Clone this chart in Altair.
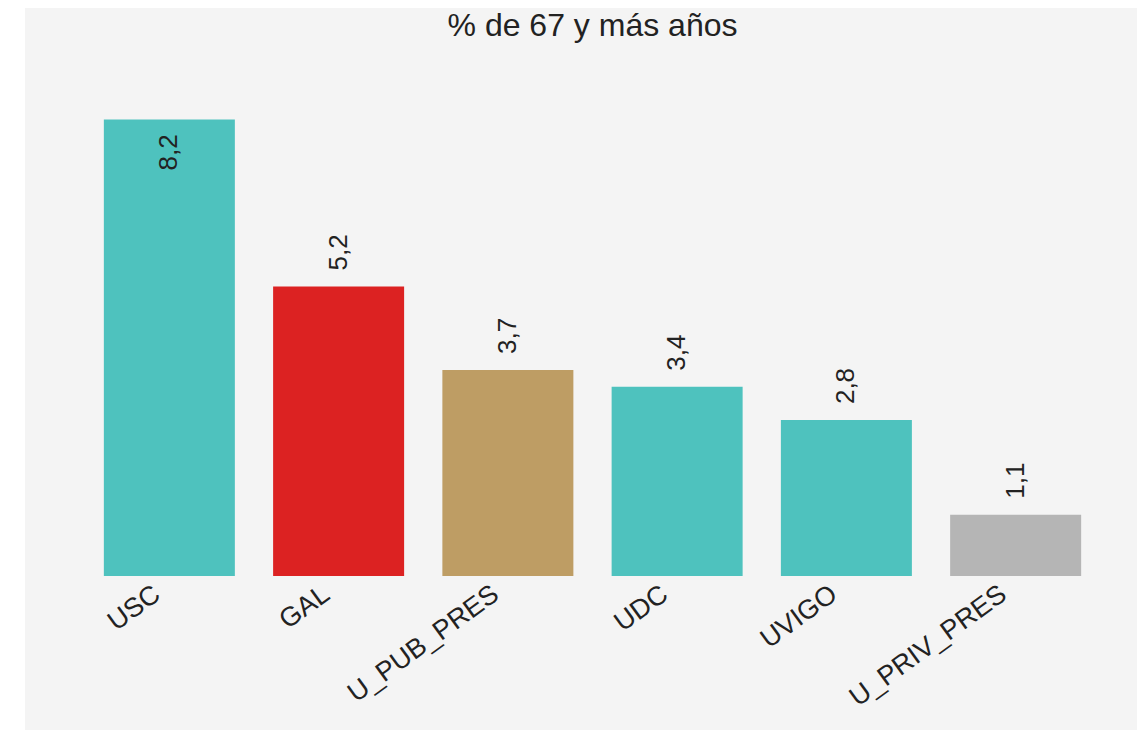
import altair as alt
import pandas as pd

categorias = ["USC", "GAL", "U_PUB_PRES", "UDC", "UVIGO", "U_PRIV_PRES"]
valores = [8.2, 5.2, 3.7, 3.4, 2.8, 1.1]
colores = ["#4EC2BE", "#DC2222", "#BE9D64", "#4EC2BE", "#4EC2BE", "#B5B5B5"]

df = pd.DataFrame({"universidad": categorias, "valor": valores})

FONT = "Liberation Sans"
TXT = "#222222"

x = alt.X(
    "universidad:N",
    sort=None,
    scale=alt.Scale(paddingInner=0.226, paddingOuter=0.2),
    axis=alt.Axis(
        title=None, labelAngle=-36, labelAlign="right", labelBaseline="middle",
        labelFontSize=27, labelFont=FONT, labelColor=TXT, labelPadding=15,
        labelLimit=400, domain=False, ticks=False, grid=False, zindex=1,
        labelOffset=-12,
    ),
)
y = alt.Y("valor:Q", scale=alt.Scale(domain=[0, 9.5]), axis=None)
color = alt.Color("universidad:N", scale=alt.Scale(domain=categorias, range=colores), legend=None)

fondo = alt.Chart(alt.Data(values=[{"k": 0}])).mark_rect(color="#f4f4f4").encode(
    x=alt.value(-45), x2=alt.value(1075), y=alt.value(-40), y2=alt.value(700)
)

base = alt.Chart(df).transform_calculate(
    etiqueta="replace(format(datum.valor, '.1f'), '.', ',')"
)

barras = base.mark_bar().encode(x=x, y=y, color=color)

fuera = base.transform_filter("datum.valor < 8").mark_text(
    angle=270, align="left", baseline="middle", dx=16, fontSize=26, font=FONT, color=TXT
).encode(x=x, y=y, text="etiqueta:N")

dentro = base.transform_filter("datum.valor >= 8").mark_text(
    angle=270, align="right", baseline="middle", dx=-15, fontSize=26, font=FONT, color=TXT
).encode(x=x, y=y, text="etiqueta:N")

chart = alt.layer(fondo, barras, fuera, dentro).properties(
    width=1045,
    height=529,
    autosize="none",
    padding={"left": 62, "top": 39, "right": 22, "bottom": 154},
    background="white",
    title=alt.Title("% de 67 y más años", fontSize=32, font=FONT, color=TXT,
                    fontWeight="normal", offset=-35.5, zindex=1),
).configure_view(stroke=None)

chart.save("out.html", embed_options={"renderer": "svg", "actions": False})
